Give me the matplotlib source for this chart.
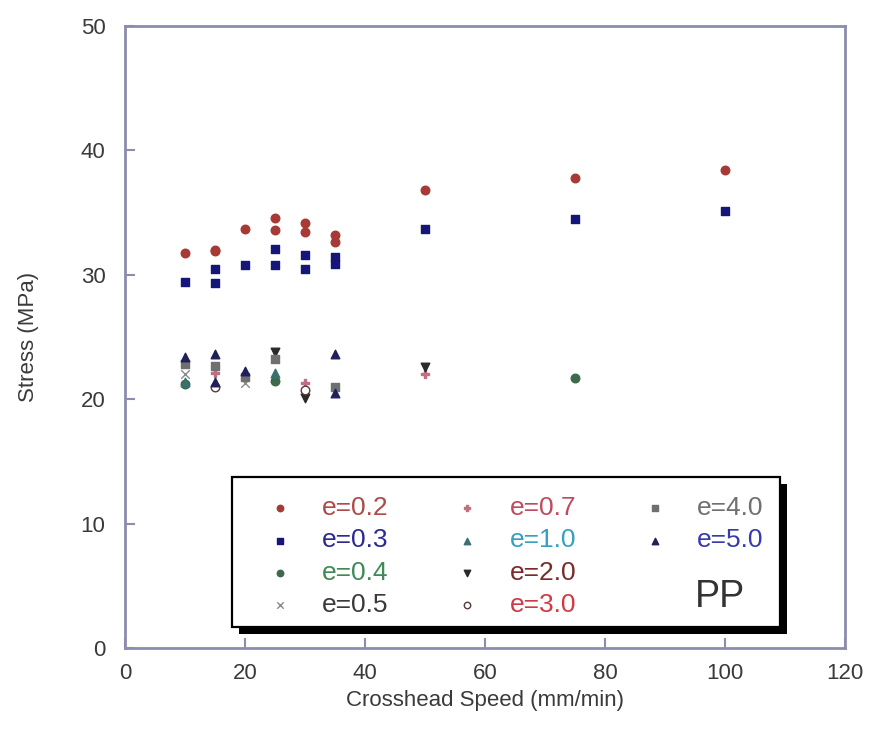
import matplotlib
matplotlib.use("Agg")
import matplotlib.pyplot as plt
from matplotlib.patches import Rectangle

plt.rcParams['font.family'] = ['Liberation Sans', 'DejaVu Sans']

# crosshead speed (mm/min) and stress (MPa) for each series
e02_x = [10, 15, 15, 20, 25, 25, 30, 30, 35, 35, 50, 75, 100]
e02_y = [31.75, 31.9, 32.0, 33.7, 34.6, 33.6, 34.2, 33.4, 33.2, 32.6, 36.8, 37.8, 38.4]
e03_x = [10, 15, 15, 20, 25, 25, 30, 30, 35, 35, 50, 75, 100]
e03_y = [29.4, 30.5, 29.3, 30.8, 32.1, 30.8, 31.6, 30.5, 31.4, 30.9, 33.7, 34.5, 35.1]
e04_x = [10, 25, 75]
e04_y = [21.2, 21.5, 21.7]
e05_x = [10, 20]
e05_y = [22.0, 21.3]
e07_x = [15, 30, 50]
e07_y = [22.1, 21.3, 22.0]
e10_x = [10, 25]
e10_y = [21.4, 22.1]
e20_x = [25, 30, 50]
e20_y = [23.8, 20.1, 22.6]
e30_x = [15, 30]
e30_y = [21.0, 20.7]
e40_x = [10, 15, 20, 25, 35]
e40_y = [22.8, 22.7, 21.8, 23.2, 21.0]
e50_x = [10, 15, 15, 20, 35, 35]
e50_y = [23.4, 23.6, 21.4, 22.3, 23.6, 20.5]

series = [
    ("e=0.2", e02_x, e02_y, "o", "#a83a35", "#a83a35", "#b04a48"),
    ("e=0.3", e03_x, e03_y, "s", "#15157a", "#15157a", "#2a2a90"),
    ("e=0.4", e04_x, e04_y, "o", "#3d6a4a", "#3d6a4a", "#3f8a55"),
    ("e=0.5", e05_x, e05_y, "x", "#8a8a8a", "#8a8a8a", "#3a3a3a"),
    ("e=0.7", e07_x, e07_y, "P", "#c07080", "#c07080", "#c04a60"),
    ("e=1.0", e10_x, e10_y, "^", "#3a7070", "#3a7070", "#35a0c0"),
    ("e=2.0", e20_x, e20_y, "v", "#2a2a2a", "#2a2a2a", "#7a2a2a"),
    ("e=3.0", e30_x, e30_y, "o", "white", "#5a3a3a", "#d03a45"),
    ("e=4.0", e40_x, e40_y, "s", "#707070", "#707070", "#707070"),
    ("e=5.0", e50_x, e50_y, "^", "#20205a", "#20205a", "#3a3ab0"),
]

frame = "#8c8cae"
txt = "#3a3a3a"

fig = plt.figure(figsize=(8.69, 7.42), dpi=100)
ax = fig.add_axes([0.1438, 0.1267, 0.8286, 0.8383])

handles = []
for name, xs, ys, mk, fc, ec, tc in series:
    h = ax.scatter(xs, ys, marker=mk, s=38, facecolor=fc, edgecolor=ec,
                   linewidth=1.0, label=name, zorder=3)
    handles.append(h)

ax.set_xlim(0, 120)
ax.set_ylim(0, 50)
ax.set_xticks(range(0, 121, 20))
ax.set_yticks(range(0, 51, 10))
ax.tick_params(direction="in", length=7, width=1.5, color=frame,
               labelsize=16, labelcolor=txt)
ax.tick_params(axis="x", pad=11)
ax.tick_params(axis="y", pad=14)
for sp in ax.spines.values():
    sp.set_color(frame)
    sp.set_linewidth(2)
ax.set_xlabel("Crosshead Speed (mm/min)", fontsize=16, color=txt, labelpad=4)
ax.set_ylabel("Stress (MPa)", fontsize=16, color=txt, labelpad=30)

# legend box with a black drop shadow
box = (0.1486, 0.0338, 0.7611, 0.2411)
ax.add_patch(Rectangle((box[0] + 0.0097, box[1] - 0.0113), box[2], box[3],
                       transform=ax.transAxes, facecolor="black",
                       edgecolor="none", zorder=5, clip_on=False))
ax.add_patch(Rectangle(box[:2], box[2], box[3], transform=ax.transAxes,
                       facecolor="white", edgecolor="black", linewidth=1.6,
                       zorder=5.5, clip_on=False))

# two blank entries so the last column holds only two items
blank = plt.Line2D([], [], linestyle="none")
order = handles + [blank, blank]
labels = [s[0] for s in series] + ["", ""]
leg = ax.legend(order, labels, ncol=3, loc="center left",
                bbox_to_anchor=(0.1969, 0.147), fontsize=19, frameon=False,
                borderpad=0, labelspacing=0.31, handlelength=1.0,
                handletextpad=1.09, columnspacing=2.49, scatterpoints=1,
                markerscale=0.75, borderaxespad=0)
leg.set_zorder(6)
for t, s in zip(leg.get_texts(), series):
    t.set_color(s[6])

ax.text(0.826, 0.082, "PP", transform=ax.transAxes, fontsize=27,
        color="#333333", ha="center", va="center", zorder=7)

fig.savefig("out.png", dpi=100)
